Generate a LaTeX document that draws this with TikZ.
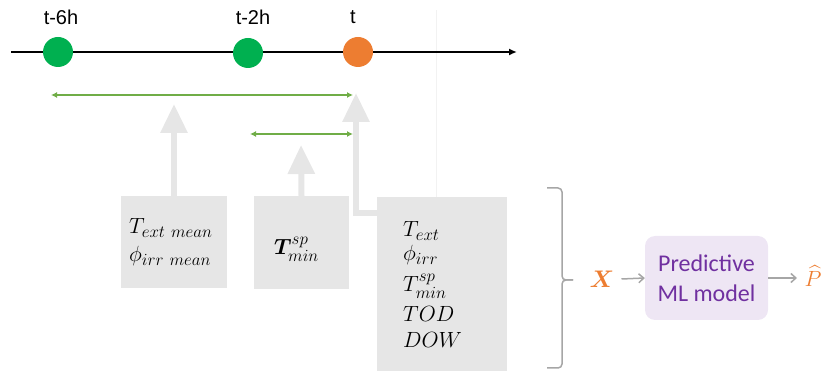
\RequirePackage{fix-cm}
\documentclass[tikz,border=0pt]{standalone}
\usepackage{fontspec}
\usepackage{amsmath}
\usepackage{bm}
\setmainfont{Liberation Sans}
\newfontfamily\calib{Carlito}
\DeclareMathSizes{22}{22}{17}{13}
\DeclareMathSizes{24}{24}{18}{14}
\usetikzlibrary{arrows.meta,calc}
\definecolor{dotgreen}{HTML}{00B050}
\definecolor{dotorange}{HTML}{ED7D31}
\definecolor{linegreen}{HTML}{70AD47}
\definecolor{boxgray}{HTML}{E6E6E6}
\definecolor{midgray}{HTML}{A6A6A6}
\definecolor{mlfill}{HTML}{EEE6F4}
\definecolor{mltext}{HTML}{7030A0}
\begin{document}
\begin{tikzpicture}[x=1pt,y=-1pt,
  dot/.style={circle,minimum size=30pt,inner sep=0pt},
  tlabel/.style={font=\fontsize{20}{22}\selectfont,inner sep=0pt},
  featbox/.style={fill=boxgray,inner sep=0pt},
  fatarrow/.style={boxgray,line width=6pt,-{Triangle[width=26pt,length=29pt]}},
  rangearrow/.style={linegreen,line width=1.6pt,{Latex[length=6pt,width=6pt]}-{Latex[length=6pt,width=6pt]}},
  grayarrow/.style={midgray,line width=1.5pt,-{Straight Barb[length=5pt,width=9pt]}},
  mathtxt/.style={font=\fontsize{22}{24}\selectfont,inner sep=0pt,anchor=base west}
]
\useasboundingbox (0,0) rectangle (823,371);
% faint guide line
\draw[color=black!5,line width=0.8pt] (436,10) -- (436,197);
% timeline
\coordinate (tl0) at (11,52);
\coordinate (tl1) at (517,52);
\draw[line width=1.6pt,-{Latex[length=8pt,width=7pt]}] (tl0) -- (tl1);
\node[dot,fill=dotgreen] (d6) at (58,52) {};
\node[dot,fill=dotgreen] (d2) at (248,53) {};
\node[dot,fill=dotorange] (dt) at (358,52) {};
\node[tlabel] (l6) at (61,17) {t-6h};
\node[tlabel] (l2) at (253,17) {t-2h};
\node[tlabel] (lt) at (353,17) {t};
% range arrows
\coordinate (r1a) at (51,95);
\coordinate (r1b) at (353,95);
\coordinate (r2a) at (250,134);
\coordinate (r2b) at (353,134);
\draw[rangearrow] (r1a) -- (r1b);
\draw[rangearrow] (r2a) -- (r2b);
% feature boxes
\node[featbox,minimum width=106pt,minimum height=92pt] (b1) at (174,242) {};
\node[mathtxt] (b1t1) at (129,234) {$T_{ext\ mean}$};
\node[mathtxt] (b1t2) at (129,262) {$\phi_{irr\ mean}$};
\node[featbox,minimum width=95pt,minimum height=93pt] (b2) at (301.5,242.5) {};
\node[mathtxt] (b2t) at (274,255) {$\bm{T}^{sp}_{min}$};
\node[featbox,minimum width=130pt,minimum height=174pt] (b3) at (442,284) {};
\node[mathtxt] (b3t1) at (403,237) {$T_{ext}$};
\node[mathtxt] (b3t2) at (403,261) {$\phi_{irr}$};
\node[mathtxt] (b3t3) at (403,292) {$T^{sp}_{min}$};
\node[mathtxt] (b3t4) at (403,322) {$TOD$};
\node[mathtxt] (b3t5) at (403,348) {$DOW$};
% fat arrows
\coordinate (a1) at (174,104);
\coordinate (a2) at (301,145);
\coordinate (a3) at (356,93);
\coordinate (e3) at (356,213);
\draw[fatarrow] (b1.north) -- (a1);
\draw[fatarrow] (b2.north) -- (a2);
\draw[fatarrow] (b3.west |- e3) -- (e3) -- (a3);
% brace
\draw[midgray,line width=1.5pt,rounded corners=4pt] (547,188) -- (562,188) -- (562,280) -- (573,280);
\draw[midgray,line width=1.5pt,rounded corners=4pt] (573,280) -- (562,280) -- (562,368) -- (547,368);
% model
\node[font=\fontsize{24}{26}\selectfont,text=dotorange,inner sep=0pt] (X) at (602,279) {$\bm{X}$};
\node[fill=mlfill,rounded corners=10pt,minimum width=123pt,minimum height=84pt,align=center,text=mltext,font=\calib\fontsize{24}{30}\selectfont] (ml) at (706.5,278) {Predictive\\ML model};
\node[font=\fontsize{22}{24}\selectfont,text=dotorange,inner sep=0pt] (P) at (813,276) {$\widehat{P}$};
\draw[grayarrow] ($(X.east)+(7,0)$) -- (ml.west);
\draw[grayarrow] (ml.east) -- (797,278);
\end{tikzpicture}
\end{document}
